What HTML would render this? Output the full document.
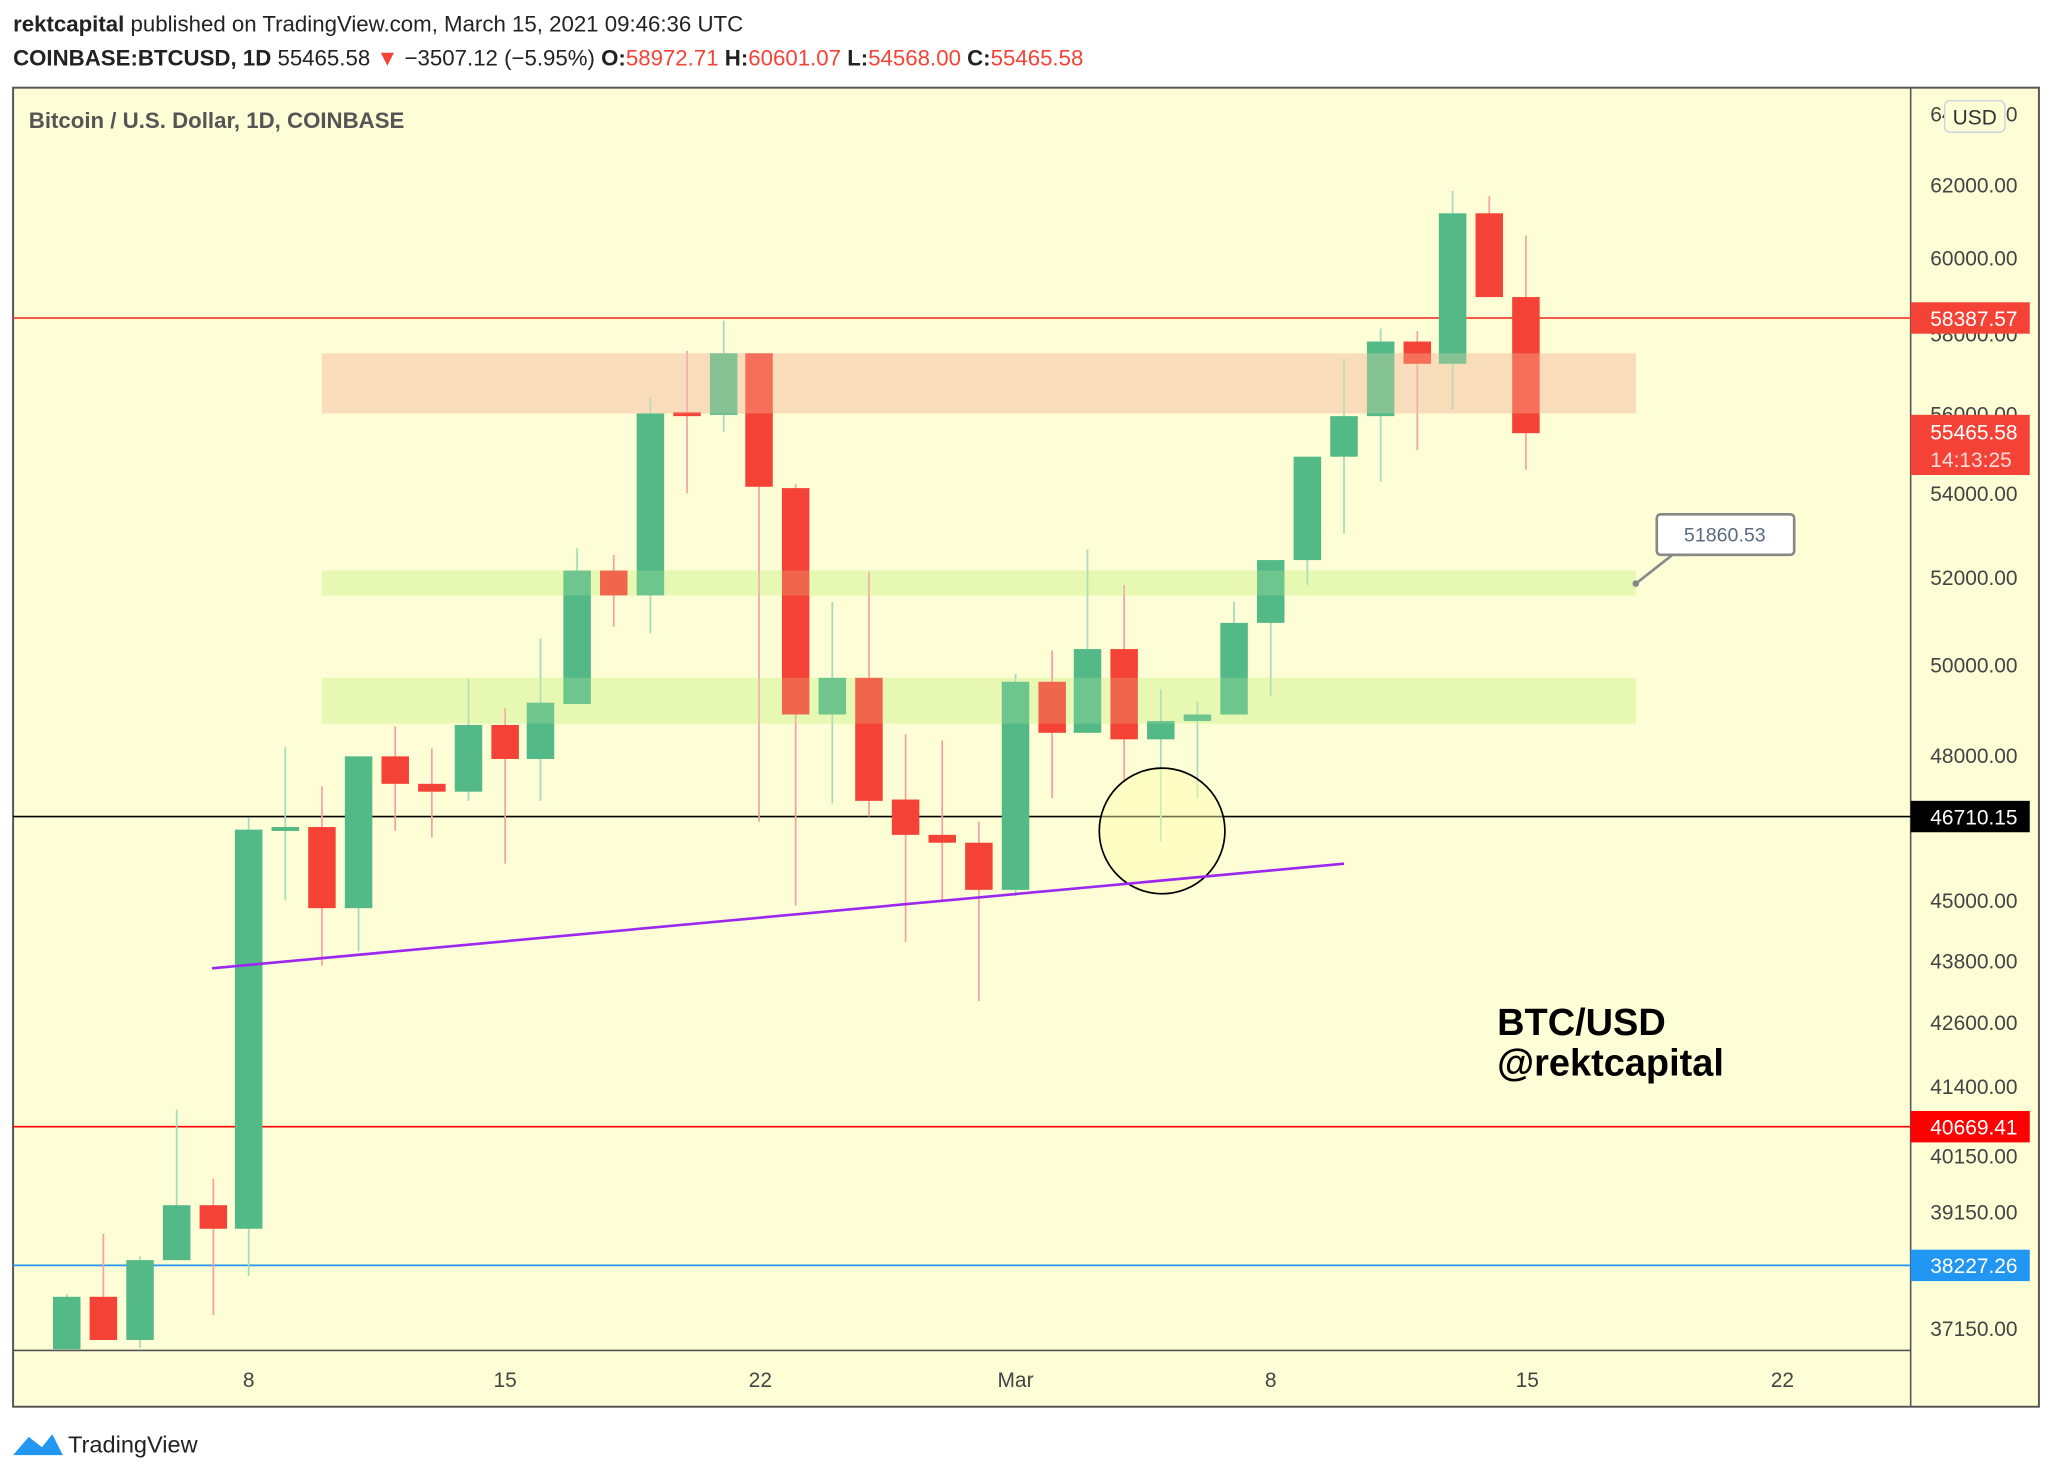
<!DOCTYPE html>
<html><head><meta charset="utf-8"><style>
html,body{margin:0;padding:0;background:#fff;}
svg{display:block;font-family:"Liberation Sans",sans-serif;}
</style></head><body>
<svg width="2052" height="1480" viewBox="0 0 1568 1131" preserveAspectRatio="none" xmlns="http://www.w3.org/2000/svg">
<rect width="1568" height="1131" fill="#fff"/>
<text x="10" y="24" font-size="17" fill="#222"><tspan font-weight="bold">rektcapital</tspan> published on TradingView.com, March 15, 2021 09:46:36 UTC</text>
<text x="10" y="50" font-size="17" fill="#222"><tspan font-weight="bold">COINBASE:BTCUSD, 1D</tspan> 55465.58 <tspan fill="#f44336">▼</tspan> −3507.12 (−5.95%) <tspan font-weight="bold">O:</tspan><tspan fill="#f44336">58972.71</tspan> <tspan font-weight="bold">H:</tspan><tspan fill="#f44336">60601.07</tspan> <tspan font-weight="bold">L:</tspan><tspan fill="#f44336">54568.00</tspan> <tspan font-weight="bold">C:</tspan><tspan fill="#f44336">55465.58</tspan></text>
<rect x="10" y="67" width="1548" height="1008" fill="#fdfdd6" stroke="#555" stroke-width="1.5"/>
<line x1="1460" y1="67" x2="1460" y2="1075" stroke="#555" stroke-width="1.2"/>
<line x1="10" y1="1032" x2="1460" y2="1032" stroke="#555" stroke-width="1.2"/>
<text x="22" y="98" font-size="17" font-weight="bold" fill="#555">Bitcoin / U.S. Dollar, 1D, COINBASE</text>
<rect x="246" y="270" width="1004" height="46" fill="#f9dfbd"/>
<rect x="246" y="436" width="1004" height="19" fill="#e8f9b4"/>
<rect x="246" y="518" width="1004" height="35" fill="#e8f9b4"/>
<line x1="10" y1="243" x2="1460" y2="243" stroke="#f44336" stroke-width="1.3"/>
<line x1="10" y1="624" x2="1460" y2="624" stroke="#000" stroke-width="1.3"/>
<line x1="10" y1="861" x2="1460" y2="861" stroke="#f00" stroke-width="1.3"/>
<line x1="10" y1="967" x2="1460" y2="967" stroke="#2196f3" stroke-width="1.3"/>
<g stroke-width="1.3">
<g stroke="#a6d9be">
<line x1="51" y1="989" x2="51" y2="1031"/><line x1="107" y1="960" x2="107" y2="1030"/><line x1="135" y1="848" x2="135" y2="963"/><line x1="190" y1="625" x2="190" y2="975"/><line x1="218" y1="571" x2="218" y2="688"/><line x1="274" y1="578" x2="274" y2="727"/><line x1="358" y1="519" x2="358" y2="612"/><line x1="413" y1="488" x2="413" y2="612"/><line x1="441" y1="419" x2="441" y2="538"/><line x1="497" y1="304" x2="497" y2="484"/><line x1="553" y1="245" x2="553" y2="330"/><line x1="636" y1="460" x2="636" y2="614"/><line x1="776" y1="515" x2="776" y2="685"/><line x1="831" y1="420" x2="831" y2="560"/><line x1="887" y1="527" x2="887" y2="643"/><line x1="915" y1="536" x2="915" y2="610"/><line x1="943" y1="460" x2="943" y2="546"/><line x1="971" y1="428" x2="971" y2="532"/><line x1="999" y1="349" x2="999" y2="447"/><line x1="1027" y1="274" x2="1027" y2="408"/><line x1="1055" y1="251" x2="1055" y2="368"/><line x1="1110" y1="146" x2="1110" y2="313"/>
</g>
<g stroke="#f5a0a8">
<line x1="79" y1="943" x2="79" y2="1024"/><line x1="163" y1="901" x2="163" y2="1005"/><line x1="246" y1="601" x2="246" y2="738"/><line x1="302" y1="555" x2="302" y2="635"/><line x1="330" y1="572" x2="330" y2="640"/><line x1="386" y1="541" x2="386" y2="660"/><line x1="469" y1="424" x2="469" y2="479"/><line x1="525" y1="268" x2="525" y2="377"/><line x1="580" y1="270" x2="580" y2="628"/><line x1="608" y1="370" x2="608" y2="692"/><line x1="664" y1="437" x2="664" y2="624"/><line x1="692" y1="561" x2="692" y2="720"/><line x1="720" y1="566" x2="720" y2="688"/><line x1="748" y1="628" x2="748" y2="765"/><line x1="804" y1="497" x2="804" y2="610"/><line x1="859" y1="447" x2="859" y2="598"/><line x1="1083" y1="253" x2="1083" y2="344"/><line x1="1138" y1="150" x2="1138" y2="227"/><line x1="1166" y1="180" x2="1166" y2="359"/>
</g></g>
<g fill="#53b987">
<rect x="40.5" y="991" width="21" height="40"/><rect x="96.5" y="963" width="21" height="61"/><rect x="124.5" y="921" width="21" height="42"/><rect x="179.5" y="634" width="21" height="305"/><rect x="207.5" y="632" width="21" height="3"/><rect x="263.5" y="578" width="21" height="116"/><rect x="347.5" y="554" width="21" height="51"/><rect x="402.5" y="537" width="21" height="43"/><rect x="430.5" y="436" width="21" height="102"/><rect x="486.5" y="316" width="21" height="139"/><rect x="542.5" y="270" width="21" height="47"/><rect x="625.5" y="518" width="21" height="28"/><rect x="765.5" y="521" width="21" height="159"/><rect x="820.5" y="496" width="21" height="64"/><rect x="876.5" y="551" width="21" height="14"/><rect x="904.5" y="546" width="21" height="5"/><rect x="932.5" y="476" width="21" height="70"/><rect x="960.5" y="428" width="21" height="48"/><rect x="988.5" y="349" width="21" height="79"/><rect x="1016.5" y="318" width="21" height="31"/><rect x="1044.5" y="261" width="21" height="57"/><rect x="1099.5" y="163" width="21" height="115"/>
</g>
<g fill="#f44336">
<rect x="68.5" y="991" width="21" height="33"/><rect x="152.5" y="921" width="21" height="18"/><rect x="235.5" y="632" width="21" height="62"/><rect x="291.5" y="578" width="21" height="21"/><rect x="319.5" y="599" width="21" height="6"/><rect x="375.5" y="554" width="21" height="26"/><rect x="458.5" y="436" width="21" height="19"/><rect x="514.5" y="315" width="21" height="3"/><rect x="569.5" y="270" width="21" height="102"/><rect x="597.5" y="373" width="21" height="173"/><rect x="653.5" y="518" width="21" height="94"/><rect x="681.5" y="611" width="21" height="27"/><rect x="709.5" y="638" width="21" height="6"/><rect x="737.5" y="644" width="21" height="36"/><rect x="793.5" y="521" width="21" height="39"/><rect x="848.5" y="496" width="21" height="69"/><rect x="1072.5" y="261" width="21" height="17"/><rect x="1127.5" y="163" width="21" height="64"/><rect x="1155.5" y="227" width="21" height="104"/>
</g>
<rect x="246" y="270" width="1004" height="46" fill="#f7d6b4" fill-opacity="0.3"/>
<rect x="246" y="436" width="1004" height="19" fill="#e3f7a8" fill-opacity="0.2"/>
<rect x="246" y="518" width="1004" height="35" fill="#e3f7a8" fill-opacity="0.2"/>
<circle cx="888" cy="635" r="48" fill="#ffffb0" fill-opacity="0.45" stroke="#000" stroke-width="1.3"/>
<line x1="162" y1="740" x2="1027" y2="660" stroke="#9c27f0" stroke-width="2"/>
<polyline points="1250,446 1278,424 1290,424" fill="none" stroke="#888" stroke-width="2"/>
<circle cx="1250" cy="446" r="2.5" fill="#888"/>
<rect x="1266" y="393" width="105" height="31" rx="3" fill="#fff" stroke="#888" stroke-width="2"/>
<text x="1318" y="414" font-size="15" fill="#5b6b80" text-anchor="middle">51860.53</text>
<text x="1144" y="791" font-size="29" font-weight="bold" fill="#000">BTC/USD</text>
<text x="1144" y="822" font-size="29" font-weight="bold" fill="#000">@rektcapital</text>
<g font-size="16" fill="#444">
<text x="1475" y="93">64000.00</text><text x="1475" y="147">62000.00</text><text x="1475" y="203">60000.00</text><text x="1475" y="261">58000.00</text><text x="1475" y="322">56000.00</text><text x="1475" y="383">54000.00</text><text x="1475" y="447">52000.00</text><text x="1475" y="514">50000.00</text><text x="1475" y="583">48000.00</text><text x="1475" y="630">46000.00</text><text x="1475" y="694">45000.00</text><text x="1475" y="740">43800.00</text><text x="1475" y="787">42600.00</text><text x="1475" y="836">41400.00</text><text x="1475" y="889">40150.00</text><text x="1475" y="932">39150.00</text><text x="1475" y="1021">37150.00</text>
</g>
<rect x="1486" y="77" width="46" height="24" rx="4" fill="#fdfdd6" stroke="#c8d0e0"/>
<text x="1509" y="95" font-size="16" fill="#333" text-anchor="middle">USD</text>
<rect x="1460" y="231" width="91" height="24" fill="#f44336"/>
<text x="1475" y="249" font-size="16" fill="#fff">58387.57</text>
<rect x="1460" y="317" width="91" height="46" fill="#f44336"/>
<text x="1475" y="336" font-size="16" fill="#fff">55465.58</text>
<text x="1475" y="357" font-size="16" fill="#fdd">14:13:25</text>
<rect x="1460" y="612" width="91" height="24" fill="#000"/>
<text x="1475" y="630" font-size="16" fill="#fff">46710.15</text>
<rect x="1460" y="849" width="91" height="24" fill="#f00"/>
<text x="1475" y="867" font-size="16" fill="#fff">40669.41</text>
<rect x="1460" y="955" width="91" height="24" fill="#2196f3"/>
<text x="1475" y="973" font-size="16" fill="#fff">38227.26</text>
<g font-size="16" fill="#444" text-anchor="middle">
<text x="190" y="1060">8</text><text x="386" y="1060">15</text><text x="581" y="1060">22</text><text x="776" y="1060">Mar</text><text x="971" y="1060">8</text><text x="1167" y="1060">15</text><text x="1362" y="1060">22</text>
</g>
<path d="M10,1112 L22,1098 L32,1106 L40,1096 L48,1112 Z" fill="#2196f3"/>
<text x="52" y="1110" font-size="18" fill="#222">TradingView</text>
</svg>
</body></html>
